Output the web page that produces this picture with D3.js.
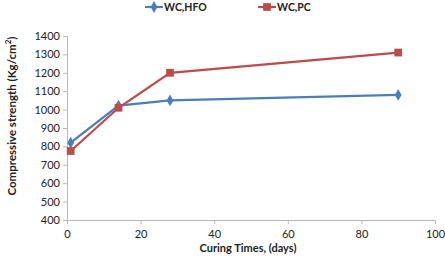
<!DOCTYPE html>
<html>
<head>
<meta charset="utf-8">
<script src="https://cdn.jsdelivr.net/npm/d3@7"></script>
<style>
  body { margin: 0; background: #fff; }
  text { font-family: Lato, "Open Sans", sans-serif; fill: #222; }
</style>
</head>
<body>
<svg width="445" height="267"></svg>
<script>
var days = [1, 14, 28, 90];
var hfoValues = [820, 1022, 1050, 1080];
var pcValues = [775, 1010, 1200, 1310];
var xTicks = [0, 20, 40, 60, 80, 100];
var yTicks = [400, 500, 600, 700, 800, 900, 1000, 1100, 1200, 1300, 1400];
var seriesNames = ["WC,HFO", "WC,PC"];

var svg = d3.select("svg");
var x = d3.scaleLinear().domain([0, 100]).range([67, 435]);
var y = d3.scaleLinear().domain([400, 1400]).range([220, 36]);

var axisColor = "#b8b8b8";

// y axis
var yAxis = svg.append("g")
    .attr("transform", "translate(" + x(0) + ",0)")
    .call(d3.axisLeft(y).tickValues(yTicks).tickFormat(d3.format("d")).tickSize(4).tickPadding(3));
// x axis
var xAxis = svg.append("g")
    .attr("transform", "translate(0," + y(400) + ")")
    .call(d3.axisBottom(x).tickValues(xTicks).tickFormat(d3.format("d")).tickSize(4).tickPadding(6));

[xAxis, yAxis].forEach(function(a) {
    a.selectAll("path, line").attr("stroke", axisColor);
    a.selectAll("text").attr("font-size", 11).attr("font-family", "Lato, sans-serif").attr("fill", "#222");
});

var series = [
    { name: seriesNames[0], values: hfoValues, color: "#4a7ebb", shape: d3.symbolDiamond, size: 40 },
    { name: seriesNames[1], values: pcValues, color: "#be4b48", shape: d3.symbolSquare, size: 60 }
];

var line = d3.line()
    .x(function(d) { return x(d[0]); })
    .y(function(d) { return y(d[1]); });

series.forEach(function(s) {
    var pts = days.map(function(d, i) { return [d, s.values[i]]; });
    svg.append("path")
        .datum(pts)
        .attr("fill", "none")
        .attr("stroke", s.color)
        .attr("stroke-width", 2.2)
        .attr("d", line);
    svg.selectAll(null)
        .data(pts)
        .enter().append("path")
        .attr("transform", function(d) { return "translate(" + x(d[0]) + "," + y(d[1]) + ")"; })
        .attr("d", d3.symbol().type(s.shape).size(s.size))
        .attr("fill", s.color);
});

// legend
var legendX = [145, 258];
series.forEach(function(s, i) {
    var g = svg.append("g").attr("transform", "translate(" + legendX[i] + ",7)");
    g.append("line").attr("x1", 0).attr("x2", 18).attr("y1", 0).attr("y2", 0)
        .attr("stroke", s.color).attr("stroke-width", 2.2);
    g.append("path").attr("transform", "translate(9,0)")
        .attr("d", d3.symbol().type(s.shape).size(s.size)).attr("fill", s.color);
    g.append("text").attr("x", 19).attr("y", 3.5)
        .attr("font-size", 10.5).attr("font-weight", "bold").text(s.name);
});

// axis titles
svg.append("text")
    .attr("x", 248).attr("y", 252)
    .attr("text-anchor", "middle")
    .attr("font-size", 11).attr("font-weight", "bold")
    .text("Curing Times, (days)");

var yt = svg.append("text")
    .attr("transform", "translate(16,116) rotate(-90)")
    .attr("text-anchor", "middle")
    .attr("font-size", 11.5).attr("font-weight", "bold");
yt.append("tspan").text("Compressive strength (Kg/cm");
yt.append("tspan").attr("dy", -5).attr("font-size", 8).text("2");
yt.append("tspan").attr("dy", 5).text(")");
</script>
</body>
</html>
